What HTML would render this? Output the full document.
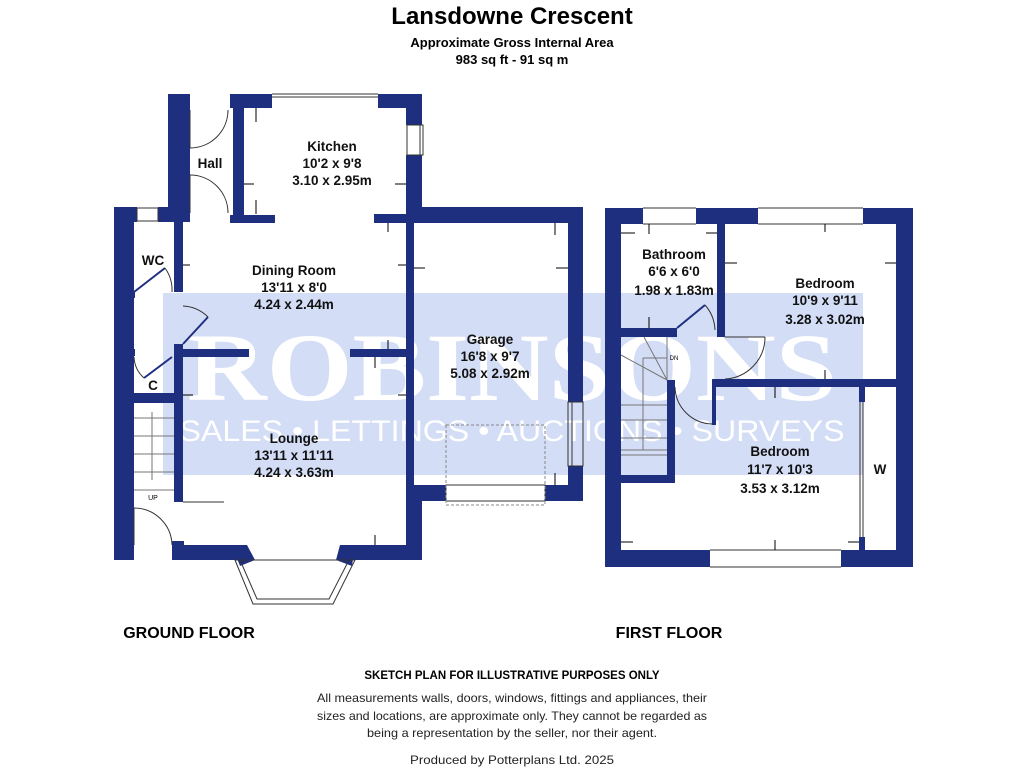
<!DOCTYPE html>
<html><head><meta charset="utf-8"><style>
html,body{margin:0;padding:0;background:#fff;width:1024px;height:768px;overflow:hidden}
svg{display:block}
</style></head><body>
<svg width="1024" height="768" viewBox="0 0 1024 768" xmlns="http://www.w3.org/2000/svg" font-family="'Liberation Sans', sans-serif">
<rect width="1024" height="768" fill="#fff"/>
<!-- watermark -->
<rect x="163" y="293" width="700" height="182" fill="#d3ddf6"/>
<text x="512" y="400" text-anchor="middle" font-family="'Liberation Serif', serif" font-weight="bold" font-size="96" fill="#fff" textLength="650" lengthAdjust="spacingAndGlyphs">ROBINSONS</text>
<text x="512" y="441" text-anchor="middle" font-size="30" fill="#fff" textLength="665" lengthAdjust="spacingAndGlyphs">SALES • LETTINGS • AUCTIONS • SURVEYS</text>

<!-- titles -->
<text x="512" y="24" text-anchor="middle" font-weight="bold" font-size="24">Lansdowne Crescent</text>
<text x="512" y="47" text-anchor="middle" font-weight="bold" font-size="13">Approximate Gross Internal Area</text>
<text x="512" y="64" text-anchor="middle" font-weight="bold" font-size="13">983 sq ft - 91 sq m</text>

<g fill="#1f2f80">
<!-- GROUND FLOOR walls -->
<rect x="114" y="207" width="20" height="353"/>
<rect x="114" y="207" width="23" height="15"/>
<rect x="158" y="207" width="32" height="15"/>
<rect x="168" y="94" width="22" height="128"/>
<rect x="230" y="94" width="42" height="14"/>
<rect x="233" y="94" width="11" height="129"/>
<rect x="230" y="215" width="45" height="8"/>
<rect x="378" y="94" width="44" height="14"/>
<rect x="406" y="94" width="16" height="31"/>
<rect x="406" y="155" width="16" height="68"/>
<rect x="374" y="214" width="48" height="9"/>
<rect x="406" y="207" width="177" height="16"/>
<rect x="568" y="207" width="15" height="195"/>
<rect x="568" y="466" width="15" height="35"/>
<rect x="406" y="485" width="40" height="16"/>
<rect x="545" y="485" width="38" height="16"/>
<rect x="406" y="223" width="8" height="262"/>
<rect x="406" y="485" width="16" height="75"/>
<rect x="340" y="545" width="82" height="15"/>
<rect x="172" y="545" width="75" height="15"/>
<polygon points="232,545 247,545 255,560 240,566"/>
<polygon points="340,545 355,545 352,566 336,560"/>
<rect x="174" y="222" width="9" height="70"/>
<rect x="174" y="344" width="9" height="158"/>
<rect x="183" y="349" width="66" height="8"/>
<rect x="350" y="349" width="56" height="8"/>
<rect x="114" y="393" width="69" height="10"/>
<rect x="130" y="291" width="5" height="7"/>
<rect x="130" y="349" width="5" height="7"/>
<rect x="172" y="541" width="12" height="19"/>

<!-- FIRST FLOOR walls -->
<rect x="605" y="208" width="16" height="359"/>
<rect x="605" y="208" width="38" height="16"/>
<rect x="696" y="208" width="62" height="16"/>
<rect x="863" y="208" width="50" height="16"/>
<rect x="896" y="208" width="17" height="359"/>
<rect x="605" y="550" width="105" height="17"/>
<rect x="841" y="550" width="72" height="17"/>
<rect x="717" y="224" width="8" height="113"/>
<rect x="621" y="328" width="56" height="9"/>
<rect x="667" y="380" width="8" height="103"/>
<rect x="621" y="475" width="54" height="8"/>
<rect x="715" y="379" width="181" height="8"/>
<rect x="712" y="379" width="4" height="46"/>
<rect x="859" y="387" width="6" height="15"/>
<rect x="859" y="537" width="6" height="13"/>
</g>

<g fill="none" stroke="#333" stroke-width="1">
<!-- windows -->
<rect x="137" y="208" width="21" height="13"/>
<line x1="272" y1="94" x2="378" y2="94"/><line x1="272" y1="97" x2="378" y2="97"/>
<rect x="407" y="125" width="16" height="30"/><line x1="420" y1="125" x2="420" y2="155"/>
<rect x="568" y="402" width="15" height="64"/><line x1="572" y1="402" x2="572" y2="466"/>
<rect x="446" y="485" width="99" height="16"/>
<rect x="446" y="425" width="99" height="80" stroke-dasharray="3,2" stroke="#888"/>
<polygon points="235,560 253,604 333,604 355,560" />
<polygon points="240,560 257,599 329,599 349,560" />
<line x1="643" y1="208" x2="696" y2="208"/><line x1="643" y1="224" x2="696" y2="224"/>
<line x1="758" y1="208" x2="863" y2="208"/><line x1="758" y1="224" x2="863" y2="224"/>
<line x1="710" y1="550" x2="841" y2="550"/><line x1="710" y1="567" x2="841" y2="567"/>
<line x1="860" y1="402" x2="860" y2="537"/><line x1="863" y1="402" x2="863" y2="537"/>
<!-- doors -->
<line x1="190" y1="110" x2="190" y2="148"/><path d="M190,148 A38,38 0 0 0 228,110"/>
<line x1="190" y1="175" x2="190" y2="213"/><path d="M190,175 A38,38 0 0 1 228,213"/>
<line x1="134" y1="292" x2="165" y2="268" stroke="#1f2f80" stroke-width="2"/><path d="M165,268 A38,38 0 0 1 172,292"/>
<line x1="183" y1="344" x2="208" y2="317" stroke="#1f2f80" stroke-width="2"/><path d="M183,306 A38,38 0 0 1 208,317"/>
<line x1="144" y1="378" x2="172" y2="357" stroke="#1f2f80" stroke-width="2"/><path d="M134,357 A30,30 0 0 0 144,378"/>
<line x1="134" y1="508" x2="134" y2="545"/><path d="M134,508 A38,38 0 0 1 172,545"/>
<line x1="183" y1="502" x2="224" y2="502"/>
<line x1="677" y1="328" x2="705" y2="305" stroke="#1f2f80" stroke-width="2"/><path d="M705,305 A40,40 0 0 1 715,330"/>
<line x1="725" y1="337" x2="765" y2="337"/><path d="M765,337 A42,42 0 0 1 725,379"/>
<path d="M675,387 A38,38 0 0 0 712,424"/>
<!-- stairs -->
<g stroke="#777">
<line x1="134" y1="418" x2="174" y2="418"/><line x1="134" y1="436" x2="174" y2="436"/>
<line x1="134" y1="454" x2="174" y2="454"/><line x1="134" y1="472" x2="174" y2="472"/>
<line x1="134" y1="490" x2="174" y2="490"/><line x1="152" y1="412" x2="152" y2="480"/>
<line x1="621" y1="405" x2="667" y2="405"/><line x1="621" y1="420" x2="667" y2="420"/>
<line x1="621" y1="438" x2="667" y2="438"/><line x1="621" y1="455" x2="667" y2="455"/>
<line x1="621" y1="450" x2="667" y2="450"/><line x1="643" y1="358" x2="667" y2="358"/>
<line x1="643" y1="358" x2="643" y2="450"/><line x1="621" y1="355" x2="667" y2="380"/>
<line x1="644" y1="337" x2="667" y2="380"/><line x1="667" y1="337" x2="667" y2="380"/>
</g>
</g>
<text x="153" y="500" text-anchor="middle" font-size="7">UP</text>
<text x="674" y="360" text-anchor="middle" font-size="6">DN</text>

<!-- dimension arrows -->
<g stroke="#000" stroke-width="1" fill="#000">
<line x1="256" y1="108" x2="256" y2="122"/><line x1="256" y1="200" x2="256" y2="214"/>
<line x1="244" y1="184" x2="254" y2="184"/><line x1="395" y1="184" x2="406" y2="184"/>
<line x1="183" y1="265" x2="190" y2="265"/><line x1="398" y1="265" x2="406" y2="265"/>
<line x1="388" y1="223" x2="388" y2="232"/><line x1="388" y1="340" x2="388" y2="349"/>
<line x1="375" y1="357" x2="375" y2="368"/><line x1="375" y1="535" x2="375" y2="545"/>
<line x1="183" y1="395" x2="193" y2="395"/><line x1="398" y1="395" x2="406" y2="395"/>
<line x1="414" y1="268" x2="425" y2="268"/><line x1="556" y1="268" x2="568" y2="268"/>
<line x1="555" y1="223" x2="555" y2="235"/><line x1="555" y1="473" x2="555" y2="485"/>
<line x1="621" y1="233" x2="635" y2="233"/><line x1="706" y1="233" x2="717" y2="233"/>
<line x1="649" y1="224" x2="649" y2="234"/><line x1="649" y1="317" x2="649" y2="328"/>
<line x1="725" y1="263" x2="737" y2="263"/><line x1="885" y1="263" x2="896" y2="263"/>
<line x1="825" y1="224" x2="825" y2="232"/><line x1="825" y1="370" x2="825" y2="379"/>
<line x1="775" y1="387" x2="775" y2="398"/><line x1="775" y1="540" x2="775" y2="550"/>
<line x1="621" y1="542" x2="633" y2="542"/><line x1="848" y1="542" x2="859" y2="542"/>
</g>

<!-- labels -->
<g font-weight="bold" font-size="13.5" text-anchor="middle" fill="#111">
<text x="210" y="168">Hall</text>
<text x="332" y="151">Kitchen</text><text x="332" y="168">10'2 x 9'8</text><text x="332" y="185">3.10 x 2.95m</text>
<text x="153" y="265">WC</text>
<text x="153" y="390">C</text>
<text x="294" y="275">Dining Room</text><text x="294" y="292">13'11 x 8'0</text><text x="294" y="309">4.24 x 2.44m</text>
<text x="490" y="344">Garage</text><text x="490" y="361">16'8 x 9'7</text><text x="490" y="378">5.08 x 2.92m</text>
<text x="294" y="443">Lounge</text><text x="294" y="460">13'11 x 11'11</text><text x="294" y="477">4.24 x 3.63m</text>
<text x="674" y="259">Bathroom</text><text x="674" y="276">6'6 x 6'0</text><text x="674" y="295">1.98 x 1.83m</text>
<text x="825" y="288">Bedroom</text><text x="825" y="305">10'9 x 9'11</text><text x="825" y="324">3.28 x 3.02m</text>
<text x="780" y="456">Bedroom</text><text x="780" y="474">11'7 x 10'3</text><text x="780" y="493">3.53 x 3.12m</text>
<text x="880" y="474">W</text>
</g>
<text x="189" y="638" text-anchor="middle" font-weight="bold" font-size="16">GROUND FLOOR</text>
<text x="669" y="638" text-anchor="middle" font-weight="bold" font-size="16">FIRST FLOOR</text>

<text x="512" y="679" text-anchor="middle" font-weight="bold" font-size="11.5">SKETCH PLAN FOR ILLUSTRATIVE PURPOSES ONLY</text>
<g font-size="12" text-anchor="middle" fill="#222">
<text x="512" y="702" textLength="390" lengthAdjust="spacingAndGlyphs">All measurements walls, doors, windows, fittings and appliances, their</text>
<text x="512" y="720" textLength="390" lengthAdjust="spacingAndGlyphs">sizes and locations, are approximate only. They cannot be regarded as</text>
<text x="512" y="737" textLength="290" lengthAdjust="spacingAndGlyphs">being a representation by the seller, nor their agent.</text>
<text x="512" y="764" textLength="204" lengthAdjust="spacingAndGlyphs">Produced by Potterplans Ltd. 2025</text>
</g>
</svg>
</body></html>
